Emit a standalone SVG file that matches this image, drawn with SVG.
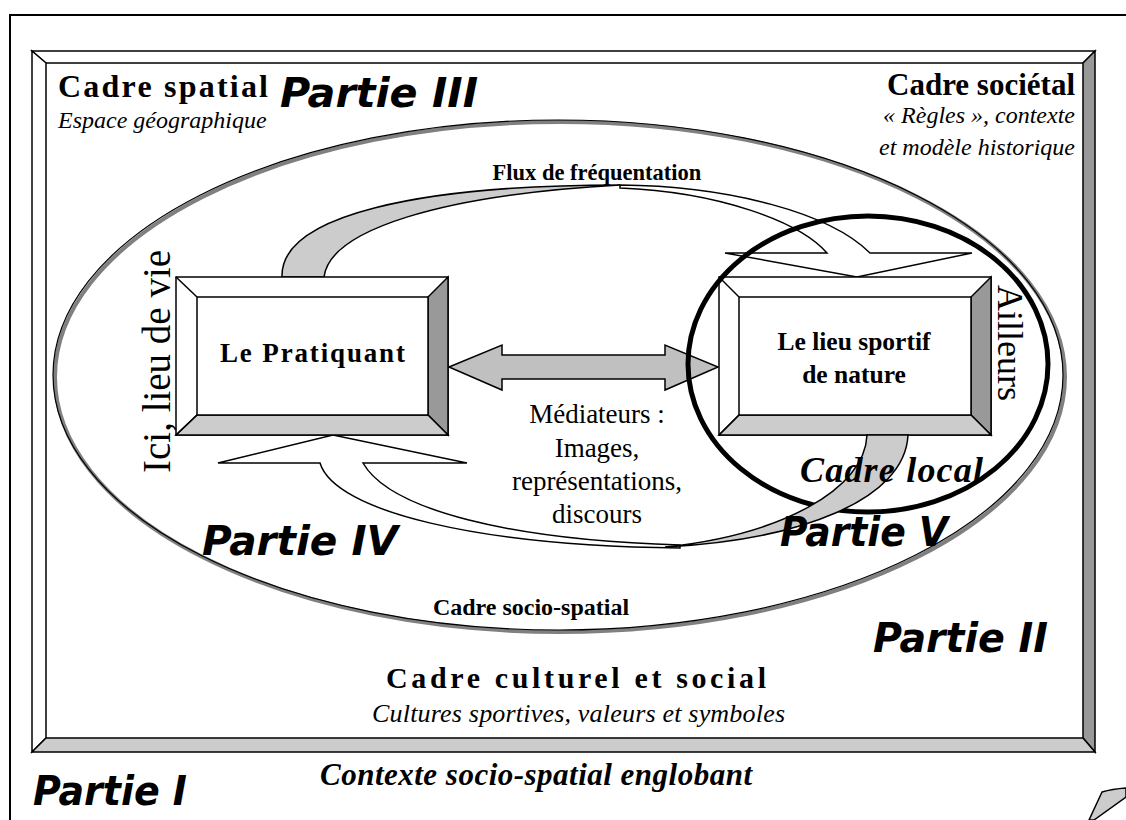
<svg xmlns="http://www.w3.org/2000/svg" width="1126" height="820" viewBox="0 0 1126 820">
<style>
.s{font-family:"Liberation Serif","Times New Roman",serif;fill:#000}
.b{font-weight:bold}
.i{font-style:italic}
.p{font-family:"DejaVu Sans",Verdana,sans-serif;font-weight:bold;font-style:italic;font-size:40px;fill:#000}
.ol{stroke:#000;stroke-width:1.5;stroke-linejoin:miter}
.w{fill:#fff}
.g1{fill:#ccc}
.g2{fill:#999}
</style>
<rect width="1126" height="820" fill="#fff"/>
<g id="outer-frame">
<rect x="10" y="15" width="1140" height="830" fill="none" stroke="#000" stroke-width="2"/>
<path d="M1089,820 L1102,792 Q1112,789 1126,788 L1126,797 L1094,820 Z" fill="#ccc" stroke="#000" stroke-width="1.5"/>
</g>
<g id="frame-bevel">
<polygon class="w ol" points="32,51 1095,51 1083,63 46,63"/>
<polygon class="w ol" points="32,51 46,63 46,738 32,752"/>
<polygon class="g2 ol" points="1095,51 1095,752 1083,738 1083,63"/>
<polygon class="g1 ol" points="32,752 1095,752 1083,738 46,738"/>
</g>
<g id="ellipse-socio-spatial">
<ellipse cx="560" cy="377" rx="505" ry="255" fill="none" stroke="#808080" stroke-width="4"/>
<ellipse cx="558" cy="375" rx="505" ry="255" fill="none" stroke="#000" stroke-width="1.2"/>
</g>
<g id="connectors">
<path id="flux-top-back" d="M282,277 C280,215 420,185 620,185 C440,195 330,230 324,277 Z" class="g1 ol"/>
<path id="flux-top-front" d="M620,185 C730,186 830,213 870,253 L972,253 L857,277 L725,253 L827,253 C800,222 720,192 620,188 Z" class="w ol"/>
<path id="flux-bottom-front" d="M680,548 C480,546 335,512 320,463 L218,463 L333,435 L467,463 L363,463 C390,510 510,540 680,545 Z" class="w ol"/>
<polygon id="mediateurs-arrow" points="449,367 502,345 502,355 665,355 665,345 718,367 665,390 665,379 502,379 502,390" fill="#c0c0c0" class="ol"/>
</g>
<g id="node-pratiquant">
<rect x="176" y="277" width="272" height="158" class="w ol"/>
<polygon class="g2 ol" points="448,277 448,435 428,415 428,297"/>
<polygon class="g1 ol" points="176,435 448,435 428,415 197,415"/>
<line class="ol" x1="176" y1="277" x2="197" y2="297"/>
<line class="ol" x1="176" y1="435" x2="197" y2="415"/>
<rect x="197" y="297" width="231" height="118" class="w ol"/>
<text class="s b" x="220" y="362" font-size="27" textLength="185">Le Pratiquant</text>
</g>
<g id="node-lieu">
<rect x="719" y="277" width="272" height="158" class="w ol"/>
<polygon class="g2 ol" points="991,277 991,435 971,415 971,297"/>
<polygon class="g1 ol" points="719,435 991,435 971,415 739,415"/>
<line class="ol" x1="719" y1="277" x2="739" y2="297"/>
<line class="ol" x1="719" y1="435" x2="739" y2="415"/>
<rect x="739" y="297" width="232" height="118" class="w ol"/>
<text class="s b" x="854" y="350" font-size="25.5" text-anchor="middle">Le lieu sportif</text>
<text class="s b" x="854" y="383" font-size="25.5" text-anchor="middle">de nature</text>
</g>
<g id="cadre-local">
<ellipse cx="868" cy="364" rx="180" ry="148" fill="none" stroke="#000" stroke-width="5"/>
</g>
<g id="flux-bottom-back-group">
<path id="flux-bottom-back" d="M908,435 C905,500 800,540 665,547 C780,535 865,490 867,435 Z" class="g1 ol"/>
</g>
<g id="labels">
<text class="s b" x="58" y="97" font-size="32" textLength="210">Cadre spatial</text>
<text class="p" x="280" y="107" textLength="198" lengthAdjust="spacingAndGlyphs">Partie III</text>
<text class="s i" x="58" y="128" font-size="24">Espace géographique</text>
<text class="s b" x="1075" y="95" font-size="31" text-anchor="end">Cadre sociétal</text>
<text class="s i" x="1075" y="123" font-size="24" text-anchor="end">« Règles », contexte</text>
<text class="s i" x="1075" y="155" font-size="24" text-anchor="end">et modèle historique</text>
<text class="s b" x="597" y="180" font-size="22.5" text-anchor="middle">Flux de fréquentation</text>
<text class="s" transform="translate(170,473) rotate(-90)" font-size="39">Ici, lieu de vie</text>
<text class="s" transform="translate(998,285) rotate(90)" font-size="36">Ailleurs</text>
<text class="s" x="597" y="423" font-size="27" text-anchor="middle">Médiateurs :</text>
<text class="s" x="597" y="457" font-size="27" text-anchor="middle">Images,</text>
<text class="s" x="597" y="490" font-size="27" text-anchor="middle">représentations,</text>
<text class="s" x="597" y="523" font-size="27" text-anchor="middle">discours</text>
<text class="s b i" x="800" y="482" font-size="36" textLength="183">Cadre local</text>
<text class="p" x="202" y="555" textLength="196" lengthAdjust="spacingAndGlyphs">Partie IV</text>
<text class="p" x="780" y="546" textLength="168" lengthAdjust="spacingAndGlyphs">Partie V</text>
<text class="s b" x="531" y="615" font-size="24" text-anchor="middle">Cadre socio-spatial</text>
<text class="p" x="873" y="652" textLength="175" lengthAdjust="spacingAndGlyphs">Partie II</text>
<text class="s b" x="386" y="688" font-size="30" textLength="380">Cadre culturel et social</text>
<text class="s i" x="372" y="722" font-size="26" textLength="413">Cultures sportives, valeurs et symboles</text>
<text class="s b i" x="320" y="785" font-size="31" textLength="432">Contexte socio-spatial englobant</text>
<text class="p" x="33" y="805" textLength="154" lengthAdjust="spacingAndGlyphs">Partie I</text>
</g>
</svg>
